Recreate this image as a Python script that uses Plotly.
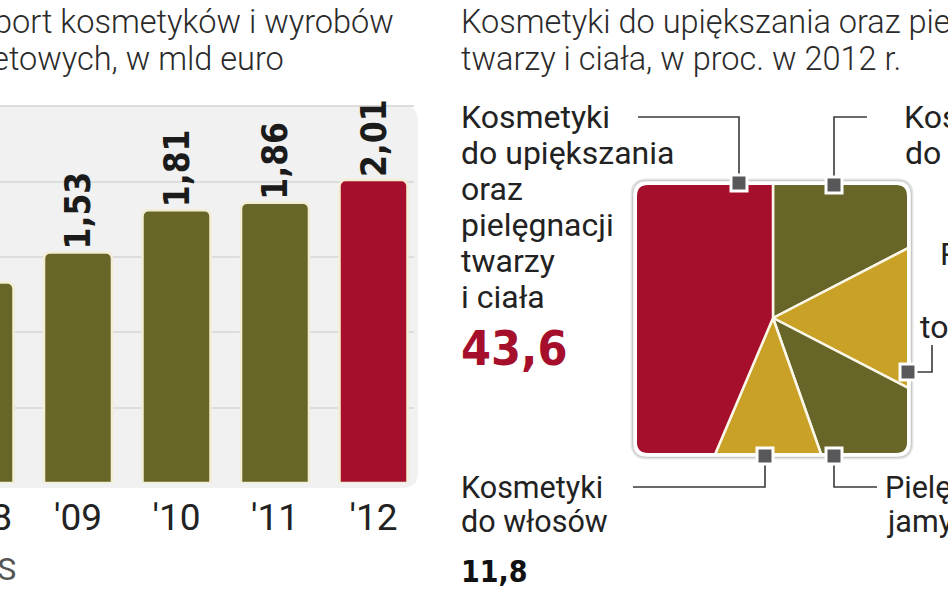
import plotly.graph_objects as go

# ---------------- data ----------------
years = ["'08", "'09", "'10", "'11", "'12"]
export_bn_eur = [1.33, 1.53, 1.81, 1.86, 2.01]

segments = [
    "Kosmetyki do upiększania oraz pielęgnacji twarzy i ciała",
    "Kosmetyki do włosów",
    "Pielęgnacja jamy ustnej",
    "Perfumy i wody toaletowe",
    "Kosmetyki do golenia",
]
shares_2012 = [43.6, 11.8, 12.0, 15.2, 17.4]

# ---------------- style ----------------
W, H = 948, 593
RED = "#a60f2b"
OLIVE = "#676628"
YELLOW = "#c9a127"
TXT = "#222222"
bar_colors = [OLIVE] * (len(years) - 1) + [RED]
seg_colors = [RED, YELLOW, OLIVE, YELLOW, OLIVE]

LIGHT = "Roboto"
LABEL = "Roboto"
BOLD = "DejaVu Sans Condensed, DejaVu Sans"


def fx(x):
    return x / W


def fy(y):
    return 1 - y / H


def P(x, y):
    return f"{fx(x):.5f},{fy(y):.5f}"


def rr_path(x0, y0, x1, y1, r):
    return (f"M{P(x0 + r, y0)} L{P(x1 - r, y0)} Q{P(x1, y0)} {P(x1, y0 + r)} "
            f"L{P(x1, y1 - r)} Q{P(x1, y1)} {P(x1 - r, y1)} L{P(x0 + r, y1)} "
            f"Q{P(x0, y1)} {P(x0, y1 - r)} L{P(x0, y0 + r)} Q{P(x0, y0)} {P(x0 + r, y0)} Z")


# bar chart geometry (pixels)
BAR_DOMAIN_W = 414
CAT_STEP = 98.5
FIRST_VISIBLE_CENTER = 78
r0 = 1 - FIRST_VISIBLE_CENTER / CAT_STEP
r1 = r0 + BAR_DOMAIN_W / CAT_STEP
Y_TOP, Y_BASE = 100, 483
PX_PER_UNIT = 150.7
yr_max = (Y_BASE - Y_TOP) / PX_PER_UNIT

fig = go.Figure()

fig.add_trace(go.Bar(
    x=years, y=export_bn_eur,
    marker=dict(color=bar_colors, line=dict(color="#f2edd3", width=2.5), cornerradius=6),
    width=0.69,
    texttemplate="%{y:.2f}", textposition="outside", textangle=-90,
    textfont=dict(family=BOLD, size=35, color="#1b1b1b", weight="bold"),
    constraintext="none", cliponaxis=False, hoverinfo="skip",
))

# pie (clipped into the rounded square below); drawn clockwise from 12 o'clock,
# so the list is walked from its end: the first segment fills the left side.
CX, CY, R = 773, 318, 175
fig.add_trace(go.Pie(
    labels=segments[::-1], values=shares_2012[::-1], sort=False,
    direction="clockwise", rotation=0,
    marker=dict(colors=seg_colors[::-1], line=dict(color="#fbf8ea", width=2.5)),
    textinfo="none", hoverinfo="label+value",
    domain=dict(x=[fx(CX - R), fx(CX + R)], y=[fy(CY + R), fy(CY - R)]),
))

fig.update_layout(
    width=W, height=H, margin=dict(l=0, r=0, t=0, b=0),
    paper_bgcolor="white", plot_bgcolor="rgba(0,0,0,0)",
    showlegend=False, separators=", ", bargap=0.3,
    xaxis=dict(domain=[0, fx(BAR_DOMAIN_W)], range=[r0, r1], type="category",
               showgrid=False, zeroline=False, showline=False, ticks="",
               tickfont=dict(family=LABEL, size=37, color=TXT), ticklabelstandoff=9),
    yaxis=dict(domain=[fy(Y_BASE), fy(Y_TOP)], range=[0, yr_max], dtick=0.5,
               showgrid=True, gridcolor="#dddddd", gridwidth=1.5,
               zeroline=False, showticklabels=False, showline=False),
)

shapes = []
# left panel background
shapes.append(dict(type="path", path=rr_path(-30, 105, 418, 488, 16), layer="below",
                   fillcolor="#f1f1f1", line=dict(width=0), xref="paper", yref="paper"))

# rounded frame of the pie
FX0, FY0, FX1, FY1, FR = 637, 185, 907, 453, 11
C = 36
for (x0, y0, col) in [(FX0, FY0, RED), (FX0, FY1 - C, RED), (FX1 - C, FY0, OLIVE), (FX1 - C, FY1 - C, OLIVE)]:
    shapes.append(dict(type="rect", x0=fx(x0), x1=fx(x0 + C), y0=fy(y0 + C), y1=fy(y0),
                       xref="paper", yref="paper", fillcolor=col, line=dict(width=0), layer="above"))
mask = f"M{P(585, 128)} L{P(960, 128)} L{P(960, 505)} L{P(585, 505)} Z " + rr_path(FX0, FY0, FX1, FY1, FR)
shapes.append(dict(type="path", path=mask, fillcolor="white", fillrule="evenodd",
                   line=dict(width=0), xref="paper", yref="paper", layer="above"))
shapes.append(dict(type="path", path=rr_path(FX0 - 5, FY0 - 5, FX1 + 5, FY1 + 5, 15),
                   line=dict(color="rgba(0,0,0,0.10)", width=3), xref="paper", yref="paper", layer="above"))
shapes.append(dict(type="path", path=rr_path(FX0 - 4.5, FY0 - 4.5, FX1 + 4.5, FY1 + 4.5, 14),
                   line=dict(color="#c9c9c9", width=1), xref="paper", yref="paper", layer="above"))

# leader lines
leaders = [
    [(638, 117), (739, 117), (739, 178)],
    [(867, 117), (834, 117), (834, 178)],
    [(912, 372), (932, 372), (932, 345)],
    [(765, 462), (765, 487), (633, 487)],
    [(834, 462), (834, 487), (877, 487)],
]
for pts in leaders:
    path = "M" + " L".join(P(x, y) for x, y in pts)
    shapes.append(dict(type="path", path=path, line=dict(color="#3a3a3a", width=1.6),
                       xref="paper", yref="paper", layer="above"))
for (x, y) in [(739, 183), (834, 185), (908, 372), (765, 456), (834, 456)]:
    h = 8
    shapes.append(dict(type="rect", x0=fx(x - h), x1=fx(x + h), y0=fy(y + h), y1=fy(y - h),
                       xref="paper", yref="paper", fillcolor="#58585a",
                       line=dict(color="white", width=3), layer="above"))
fig.update_layout(shapes=shapes)


def line_ann(x, baseline, text, size, family, color=TXT, anchor="left", weight=None):
    f = dict(family=family, size=size, color=color)
    if weight is not None:
        f["weight"] = weight
    fig.add_annotation(x=fx(x), y=fy(baseline - 0.345 * size), xref="paper", yref="paper",
                       text=text, showarrow=False, xanchor=anchor, yanchor="middle",
                       font=f, borderpad=0)


# titles
line_ann(395, 33, "Eksport kosmetyków i wyrobów", 32.5, LIGHT, "#2a2a2a", "right", 300)
line_ann(285, 70, "toaletowych, w mld euro", 32.5, LIGHT, "#2a2a2a", "right", 300)
line_ann(460, 33, "Kosmetyki do upiększania oraz pielęgnacji", 32.5, LIGHT, "#2a2a2a", "left", 300)
line_ann(460, 70, "twarzy i ciała, w proc. w 2012 r.", 32.5, LIGHT, "#2a2a2a", "left", 300)

# '08 tick label (its category centre lies left of the visible axis range)
line_ann((0 - r0) * CAT_STEP + 8, 530, years[0], 37, LABEL, TXT, "center")
# source
line_ann(17, 580, "Źródło: GUS", 32, LABEL, "#555555", "right")

# pie labels
for i, s in enumerate(["Kosmetyki", "do upiększania", "oraz", "pielęgnacji", "twarzy", "i ciała"]):
    line_ann(460, 128 + 36 * i, s, 32, LABEL)
line_ann(460, 365, f"{shares_2012[0]:.1f}".replace(".", ","), 48, BOLD, RED, "left", "bold")

line_ann(460, 498, "Kosmetyki", 30.5, LABEL)
line_ann(460, 532, "do włosów", 30.5, LABEL)
line_ann(460, 582, f"{shares_2012[1]:.1f}".replace(".", ","), 30, BOLD, "#111111", "left", "bold")

line_ann(884, 498, "Pielęgnacja", 30.5, LABEL)
line_ann(886, 532, "jamy ustnej", 30.5, LABEL)

line_ann(903, 128, "Kosmetyki", 32, LABEL)
line_ann(904, 164, "do golenia", 32, LABEL)

for i, s in enumerate(["Perfumy", "i wody", "toaletowe"]):
    line_ann(1061, 265 + 36.5 * i, s, 32, LABEL, TXT, "right")

fig.write_html("out.html")
